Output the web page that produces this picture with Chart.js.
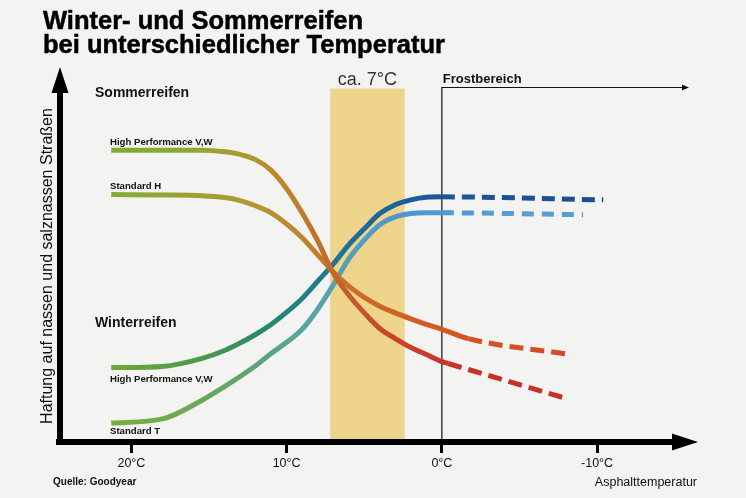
<!DOCTYPE html>
<html>
<head>
    <title>Winter- und Sommerreifen</title>
    <script src="https://cdn.jsdelivr.net/npm/chart.js"></script>
    <style>
        body { margin: 0; background: #f3f3f1; }
    </style>
</head>
<body>
    <canvas id="tyreChart" width="746" height="498"></canvas>

    <script>
        // Readings (temperature in °C, grip in arbitrary units 0-100)
        const sommerHpTemp = [21.3, 18, 15.5, 14, 13, 12, 11, 10, 9, 8, 7, 6, 5, 4, 3, 2, 1, 0, -0.4, -8.1];
        const sommerHpGrip = [78.4, 78.4, 78.4, 78.0, 77.3, 75.9, 73.0, 68.1, 61.6, 54.1, 45.4, 39.5, 34.7, 30.5, 27.8, 25.4, 23.5, 21.6, 21.1, 11.6];

        const sommerStdTemp = [21.3, 18, 15.5, 14, 13, 12, 11, 10, 9, 8, 7, 6, 5, 4, 3, 2, 1, 0, -1.7, -8.3];
        const sommerStdGrip = [66.5, 66.4, 66.2, 65.7, 64.9, 63.5, 61.6, 58.6, 54.9, 50.3, 45.7, 41.9, 38.9, 36.5, 34.7, 33.1, 31.6, 30.3, 27.8, 23.5];

        const winterHpTemp = [21.3, 18, 15.5, 14, 13, 12, 11, 10, 9, 8, 7, 6, 5, 4, 3, 2, 1, 0, -10.4];
        const winterHpGrip = [20.0, 20.3, 22.4, 24.6, 26.6, 28.9, 31.6, 34.9, 38.6, 43.2, 47.8, 53.0, 57.3, 61.4, 63.8, 65.1, 65.8, 65.9, 65.1];

        const winterStdTemp = [21.3, 18, 15.5, 14, 13, 12, 11, 10, 9, 8, 7, 6, 5, 4, 3, 2, 1, 0, -9.1];
        const winterStdGrip = [5.1, 6.2, 11.1, 14.9, 17.6, 20.5, 23.8, 26.8, 30.3, 35.7, 42.2, 49.2, 54.3, 58.4, 60.5, 61.4, 61.6, 61.6, 61.1];

        // where the dashed (frost) part of each curve starts: index into the arrays
        const sommerHpDashFrom = 18;
        const sommerStdDashFrom = 18;
        const winterHpDashFrom = 17;
        const winterStdDashFrom = 17;

        const tickTemps = [20, 10, 0, -10];
        const bandFrom = 7.2;   // "ca. 7°C" zone
        const bandTo = 2.4;

        const FONT = '"Liberation Sans", Arial, Helvetica, sans-serif';

        function toPoints(xs, ys) {
            return xs.map((t, i) => ({ x: t, y: ys[i] }));
        }

        // colour runs along the curve from green to the end colour
        function gradient(stops) {
            return function (context) {
                const chart = context.chart;
                const area = chart.chartArea;
                if (!area) return stops[0][1];
                const xs = chart.scales.x;
                const g = chart.ctx.createLinearGradient(area.left, 0, area.right, 0);
                const w = area.right - area.left;
                stops.forEach(([t, col]) => {
                    const f = (xs.getPixelForValue(t) - area.left) / w;
                    g.addColorStop(Math.min(1, Math.max(0, f)), col);
                });
                return g;
            };
        }

        function dashed(from, pattern) {
            return ctx => (ctx.p0DataIndex >= from ? pattern : undefined);
        }

        const baseLine = {
            borderWidth: 5,
            pointRadius: 0,
            pointHoverRadius: 0,
            fill: false,
            cubicInterpolationMode: 'monotone',
            borderCapStyle: 'butt'
        };

        const datasets = [
            Object.assign({}, baseLine, {
                label: 'Sommerreifen High Performance V,W',
                data: toPoints(sommerHpTemp, sommerHpGrip),
                borderColor: gradient([[21.3, '#7eaa36'], [15.5, '#8fa834'], [13, '#aa9a30'], [10, '#bd842b'], [7, '#c4662a'], [4, '#c84a28'], [0, '#c63428'], [-8.1, '#c83028']]),
                segment: { borderDash: dashed(sommerHpDashFrom, [14, 7]) }
            }),
            Object.assign({}, baseLine, {
                label: 'Sommerreifen Standard H',
                data: toPoints(sommerStdTemp, sommerStdGrip),
                borderColor: gradient([[21.3, '#82ac34'], [15.5, '#a0a232'], [11, '#b89230'], [9, '#c0842e'], [6, '#c96e28'], [2, '#d25e22'], [-1.7, '#d65222'], [-8.3, '#d44a26']]),
                segment: { borderDash: dashed(sommerStdDashFrom, [14, 7]) }
            }),
            Object.assign({}, baseLine, {
                label: 'Winterreifen High Performance V,W',
                data: toPoints(winterHpTemp, winterHpGrip),
                borderColor: gradient([[21.3, '#6ea83a'], [15.5, '#4c9a4a'], [12, '#2c8a66'], [9, '#1f8286'], [6, '#1e6f9a'], [2.5, '#1d5e9e'], [0, '#1c5598'], [-10.4, '#1a4e92']]),
                segment: { borderDash: dashed(winterHpDashFrom, [13, 7]) }
            }),
            Object.assign({}, baseLine, {
                label: 'Winterreifen Standard T',
                data: toPoints(winterStdTemp, winterStdGrip),
                borderColor: gradient([[21.3, '#78ae3e'], [15.5, '#68a85a'], [11.5, '#5aa27e'], [9, '#5aa69e'], [6, '#55a0b8'], [2.5, '#4f96cc'], [0, '#5299d2'], [-9.1, '#5a9ed8']]),
                segment: { borderDash: dashed(winterStdDashFrom, [12, 8]) }
            })
        ];

        function triangle(ctx, pts) {
            ctx.beginPath();
            ctx.moveTo(pts[0][0], pts[0][1]);
            ctx.lineTo(pts[1][0], pts[1][1]);
            ctx.lineTo(pts[2][0], pts[2][1]);
            ctx.closePath();
            ctx.fill();
        }

        function text(ctx, str, x, y, font, color, align) {
            ctx.font = font;
            ctx.fillStyle = color || '#111';
            ctx.textAlign = align || 'left';
            ctx.textBaseline = 'alphabetic';
            ctx.fillText(str, x, y);
        }

        const decorations = {
            id: 'decorations',
            beforeDatasetsDraw(chart) {
                const { ctx, chartArea: a, scales: { x, y } } = chart;
                ctx.save();
                // yellow zone around 7 °C
                const b1 = x.getPixelForValue(bandFrom);
                const b2 = x.getPixelForValue(bandTo);
                const top = y.getPixelForValue(95);
                ctx.fillStyle = '#efd48c';
                ctx.fillRect(Math.min(b1, b2), top, Math.abs(b2 - b1), a.bottom - top);
                text(ctx, 'ca. 7°C', (b1 + b2) / 2, 85, '18px ' + FONT, '#333', 'center');

                // frost region marker
                const f0 = x.getPixelForValue(0);
                const fTop = y.getPixelForValue(95.3);
                ctx.strokeStyle = '#111';
                ctx.lineWidth = 1.2;
                ctx.beginPath();
                ctx.moveTo(f0, a.bottom);
                ctx.lineTo(f0, fTop);
                ctx.lineTo(683, fTop);
                ctx.stroke();
                ctx.fillStyle = '#111';
                triangle(ctx, [[682, fTop - 3], [689, fTop], [682, fTop + 3]]);
                text(ctx, 'Frostbereich', f0 + 1, 83, 'bold 13px ' + FONT, '#111');
                ctx.restore();
            },
            afterDraw(chart) {
                const { ctx, chartArea: a } = chart;
                ctx.save();
                // axes with arrow heads
                ctx.fillStyle = '#000';
                ctx.fillRect(a.left - 4, a.bottom - 3, 673 - (a.left - 4), 6);
                triangle(ctx, [[672, a.bottom - 8.5], [698, a.bottom], [672, a.bottom + 8.5]]);
                ctx.fillRect(a.left - 3, 92, 6, a.bottom + 3 - 92);
                triangle(ctx, [[a.left - 8.5, 93], [a.left, 67], [a.left + 8.5, 93]]);

                // title
                ctx.strokeStyle = '#000';
                ctx.lineWidth = 0.5;
                ctx.font = 'bold 25.5px ' + FONT;
                ctx.fillStyle = '#000';
                ctx.textAlign = 'left';
                ctx.fillText('Winter- und Sommerreifen', 43, 29);
                ctx.strokeText('Winter- und Sommerreifen', 43, 29);
                ctx.fillText('bei unterschiedlicher Temperatur', 43, 53);
                ctx.strokeText('bei unterschiedlicher Temperatur', 43, 53);

                // group and curve labels
                text(ctx, 'Sommerreifen', 95, 97, 'bold 14px ' + FONT);
                text(ctx, 'High Performance V,W', 110, 145, 'bold 9.6px ' + FONT);
                text(ctx, 'Standard H', 110, 189, 'bold 9.6px ' + FONT);
                text(ctx, 'Winterreifen', 95, 327, 'bold 14px ' + FONT);
                text(ctx, 'High Performance V,W', 110, 382, 'bold 9.6px ' + FONT);
                text(ctx, 'Standard T', 110, 434, 'bold 9.6px ' + FONT);

                // footer
                text(ctx, 'Quelle: Goodyear', 53, 485, 'bold 10px ' + FONT);
                text(ctx, 'Asphalttemperatur', 697, 486, '12.5px ' + FONT, '#111', 'right');

                // vertical axis caption
                ctx.translate(51.5, 266);
                ctx.rotate(-Math.PI / 2);
                text(ctx, 'Haftung auf nassen und salznassen Straßen', 0, 0, '16px ' + FONT, '#111', 'center');
                ctx.restore();
            }
        };

        new Chart(document.getElementById('tyreChart'), {
            type: 'line',
            data: { datasets: datasets },
            options: {
                responsive: false,
                animation: false,
                events: [],
                layout: { padding: { left: 60, right: 48, top: 70, bottom: 0 } },
                plugins: {
                    legend: { display: false },
                    title: { display: false },
                    tooltip: { enabled: false }
                },
                scales: {
                    x: {
                        type: 'linear',
                        reverse: true,
                        min: -16.5,
                        max: 24.6,
                        afterBuildTicks: scale => {
                            scale.ticks = tickTemps.map(v => ({ value: v }));
                        },
                        afterFit: scale => { scale.height = 56; },
                        border: { display: false },
                        grid: {
                            display: true,
                            drawOnChartArea: false,
                            drawTicks: true,
                            tickLength: 11,
                            tickWidth: 3,
                            tickColor: '#000'
                        },
                        ticks: {
                            autoSkip: false,
                            maxRotation: 0,
                            padding: 3,
                            color: '#111',
                            font: { family: FONT, size: 12.5 },
                            callback: v => v + '°C'
                        }
                    },
                    y: {
                        type: 'linear',
                        display: false,
                        min: 0,
                        max: 100
                    }
                }
            },
            plugins: [decorations]
        });
    </script>
</body>
</html>
